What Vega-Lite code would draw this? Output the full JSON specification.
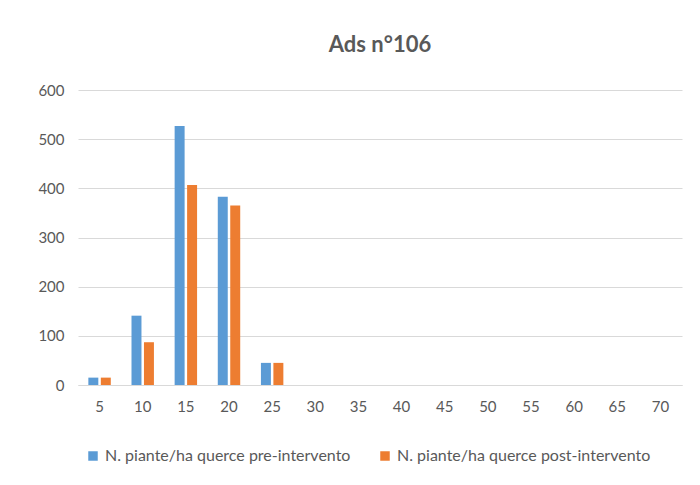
{
  "$schema": "https://vega.github.io/schema/vega-lite/v6.json",
  "autosize": {"type": "none"},
  "width": 604,
  "height": 295,
  "padding": {"left": 78, "top": 90, "right": 18, "bottom": 100},
  "background": "white",
  "config": {
    "font": "Lato",
    "view": {"stroke": null}
  },
  "title": {
    "text": "Ads n°106",
    "fontSize": 22,
    "fontWeight": "bold",
    "color": "#595959",
    "font": "Lato",
    "anchor": "middle",
    "offset": 26
  },
  "data": {
    "values": [
      {"classe": 5, "serie": "N. piante/ha  querce pre-intervento", "valore": 15},
      {"classe": 5, "serie": "N. piante/ha  querce post-intervento", "valore": 15},
      {"classe": 10, "serie": "N. piante/ha  querce pre-intervento", "valore": 141},
      {"classe": 10, "serie": "N. piante/ha  querce post-intervento", "valore": 87},
      {"classe": 15, "serie": "N. piante/ha  querce pre-intervento", "valore": 527},
      {"classe": 15, "serie": "N. piante/ha  querce post-intervento", "valore": 407},
      {"classe": 20, "serie": "N. piante/ha  querce pre-intervento", "valore": 383},
      {"classe": 20, "serie": "N. piante/ha  querce post-intervento", "valore": 365},
      {"classe": 25, "serie": "N. piante/ha  querce pre-intervento", "valore": 45},
      {"classe": 25, "serie": "N. piante/ha  querce post-intervento", "valore": 45},
      {"classe": 30, "serie": "N. piante/ha  querce pre-intervento", "valore": 0},
      {"classe": 30, "serie": "N. piante/ha  querce post-intervento", "valore": 0},
      {"classe": 35, "serie": "N. piante/ha  querce pre-intervento", "valore": 0},
      {"classe": 35, "serie": "N. piante/ha  querce post-intervento", "valore": 0},
      {"classe": 40, "serie": "N. piante/ha  querce pre-intervento", "valore": 0},
      {"classe": 40, "serie": "N. piante/ha  querce post-intervento", "valore": 0},
      {"classe": 45, "serie": "N. piante/ha  querce pre-intervento", "valore": 0},
      {"classe": 45, "serie": "N. piante/ha  querce post-intervento", "valore": 0},
      {"classe": 50, "serie": "N. piante/ha  querce pre-intervento", "valore": 0},
      {"classe": 50, "serie": "N. piante/ha  querce post-intervento", "valore": 0},
      {"classe": 55, "serie": "N. piante/ha  querce pre-intervento", "valore": 0},
      {"classe": 55, "serie": "N. piante/ha  querce post-intervento", "valore": 0},
      {"classe": 60, "serie": "N. piante/ha  querce pre-intervento", "valore": 0},
      {"classe": 60, "serie": "N. piante/ha  querce post-intervento", "valore": 0},
      {"classe": 65, "serie": "N. piante/ha  querce pre-intervento", "valore": 0},
      {"classe": 65, "serie": "N. piante/ha  querce post-intervento", "valore": 0},
      {"classe": 70, "serie": "N. piante/ha  querce pre-intervento", "valore": 0},
      {"classe": 70, "serie": "N. piante/ha  querce post-intervento", "valore": 0}
    ]
  },
  "mark": {"type": "bar"},
  "encoding": {
    "x": {
      "field": "classe",
      "type": "ordinal",
      "sort": null,
      "scale": {"paddingInner": 0.48, "paddingOuter": 0.24},
      "axis": {
        "title": null,
        "labelAngle": 0,
        "labelFontSize": 15,
        "labelColor": "#595959",
        "labelPadding": 14,
        "ticks": false,
        "domain": true,
        "domainColor": "#d9d9d9",
        "grid": false
      }
    },
    "xOffset": {
      "field": "serie",
      "type": "nominal",
      "sort": ["N. piante/ha  querce pre-intervento", "N. piante/ha  querce post-intervento"],
      "scale": {"paddingInner": 0.2}
    },
    "y": {
      "field": "valore",
      "type": "quantitative",
      "scale": {"domain": [0, 600]},
      "axis": {
        "title": null,
        "values": [0, 100, 200, 300, 400, 500, 600],
        "labelFontSize": 15,
        "labelColor": "#595959",
        "labelPadding": 14,
        "ticks": false,
        "domain": false,
        "grid": true,
        "gridColor": "#d9d9d9",
        "gridWidth": 1
      }
    },
    "color": {
      "field": "serie",
      "type": "nominal",
      "sort": ["N. piante/ha  querce pre-intervento", "N. piante/ha  querce post-intervento"],
      "scale": {"range": ["#5b9bd5", "#ed7d31"]},
      "legend": {
        "title": null,
        "orient": "none",
        "legendX": 7,
        "legendY": 358,
        "direction": "horizontal",
        "symbolType": "square",
        "symbolSize": 90,
        "symbolStrokeWidth": 0,
        "labelFontSize": 16,
        "labelColor": "#595959",
        "labelOffset": 4,
        "labelLimit": 400,
        "columnPadding": 22
      }
    }
  }
}
